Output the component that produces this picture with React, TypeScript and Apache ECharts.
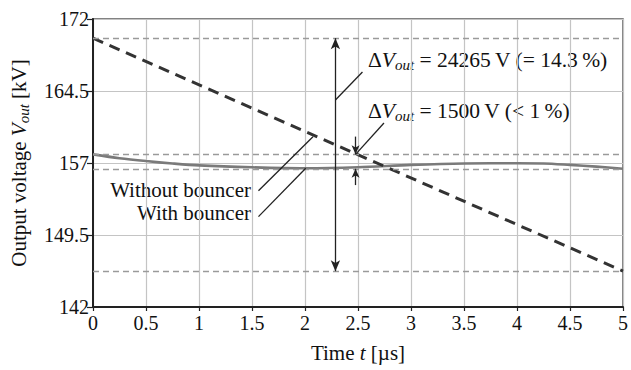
import React, { useEffect, useRef } from "react";
import * as echarts from "echarts";

// Time axis (µs) and output voltage (kV)
const timeWithout = [0, 5];
const voltWithout = [170.0, 145.735];

const timeWith = [0, 0.25, 0.5, 0.75, 1, 1.5, 2, 2.5, 3, 3.5, 4, 4.25, 4.5, 4.75, 5];
const voltWith = [157.9, 157.5, 157.2, 156.95, 156.75, 156.55, 156.45, 156.55, 156.8, 156.95, 156.97, 156.95, 156.8, 156.62, 156.4];

// Horizontal bounds of each droop (kV)
const boundsWithout = [170.0, 145.735];
const boundsWith = [157.9, 156.4];

const xTicks = { min: 0, max: 5, interval: 0.5 };
const yTicks = { min: 142, max: 172, interval: 7.5 };

const FONT = "Liberation Serif";

function richFor(size: number) {
  return {
    n: { fontFamily: FONT, fontSize: size, color: "#111", lineHeight: size + 4, verticalAlign: "middle" },
    i: { fontFamily: FONT, fontSize: size, color: "#111", fontStyle: "italic", lineHeight: size + 4 },
    s: {
      fontFamily: FONT,
      fontSize: Math.round(size * 0.7),
      color: "#111",
      fontStyle: "italic",
      lineHeight: Math.round(size * 0.7),
      verticalAlign: "bottom",
      padding: [4, 0, 0, 0],
    },
  };
}

export default function App() {
  const ref = useRef<HTMLDivElement>(null);

  useEffect(() => {
    if (!ref.current) return;
    const chart = echarts.init(ref.current, undefined, { renderer: "svg" });

    const nameRich = richFor(21);
    const noteRich = richFor(21.5);
    const arrowLine = { color: "#222", width: 1.3, type: "solid" };

    chart.setOption({
      animation: false,
      backgroundColor: "#fff",
      textStyle: { fontFamily: FONT },
      grid: {
        left: 93,
        right: 3,
        top: 19,
        bottom: 63,
        show: true,
        borderColor: "#5a5a5a",
        borderWidth: 1.5,
      },
      xAxis: {
        type: "value",
        min: xTicks.min,
        max: xTicks.max,
        interval: xTicks.interval,
        name: "Time {i|t} [µs]",
        nameLocation: "middle",
        nameGap: 33,
        nameTextStyle: { fontFamily: FONT, fontSize: 21, color: "#111", rich: nameRich },
        axisLine: { lineStyle: { color: "#222", width: 2 } },
        axisTick: { show: true, length: 4, lineStyle: { color: "#222", width: 1.2 } },
        axisLabel: { fontFamily: FONT, fontSize: 20, color: "#111", margin: 6 },
        splitLine: { show: true, lineStyle: { color: "#c4c4c4", width: 1.2 } },
      },
      yAxis: {
        type: "value",
        min: yTicks.min,
        max: yTicks.max,
        interval: yTicks.interval,
        name: "Output voltage {i|V}{s|out} [kV]",
        nameLocation: "middle",
        nameGap: 62,
        nameTextStyle: { fontFamily: FONT, fontSize: 21, color: "#111", rich: nameRich },
        axisLine: { show: true, lineStyle: { color: "#222", width: 2 } },
        axisTick: { show: true, length: 6, lineStyle: { color: "#222", width: 1.2 } },
        axisLabel: { fontFamily: FONT, fontSize: 20, color: "#111", margin: 4 },
        splitLine: { show: true, lineStyle: { color: "#c4c4c4", width: 1.2 } },
      },
      series: [
        {
          name: "With bouncer",
          type: "line",
          data: timeWith.map((t, k) => [t, voltWith[k]]),
          smooth: 0.3,
          showSymbol: false,
          lineStyle: { color: "#7a7a7a", width: 2.6 },
          z: 3,
          markLine: {
            silent: true,
            symbol: "none",
            label: { show: false },
            lineStyle: { color: "#9a9a9a", width: 1.4, type: [6, 4] },
            data: [
              ...boundsWith.map((v) => ({ yAxis: v })),
              ...boundsWithout.map((v) => ({ yAxis: v })),
            ],
          },
        },
        {
          name: "Without bouncer",
          type: "line",
          data: timeWithout.map((t, k) => [t, voltWithout[k]]),
          showSymbol: false,
          lineStyle: { color: "#333", width: 3, type: [11, 7] },
          z: 4,
          markLine: {
            silent: true,
            symbol: "none",
            label: { show: false },
            lineStyle: arrowLine,
            data: [
              // full droop arrow without bouncer
              [
                { coord: [2.287, boundsWithout[0]], symbol: "arrow", symbolSize: [7, 11] },
                { coord: [2.287, boundsWithout[1]], symbol: "arrow", symbolSize: [7, 11] },
              ],
              // droop arrows with bouncer
              [
                { coord: [2.477, 159.75], symbol: "none" },
                { coord: [2.477, boundsWith[0]], symbol: "arrow", symbolSize: [6, 9] },
              ],
              [
                { coord: [2.477, 154.7], symbol: "none" },
                { coord: [2.477, boundsWith[1]], symbol: "arrow", symbolSize: [6, 9] },
              ],
              // leader lines
              [{ coord: [2.542, 166.48] }, { coord: [2.287, 163.56] }],
              [{ coord: [2.745, 161.17] }, { coord: [2.477, boundsWith[0]] }],
              [{ coord: [1.561, 154.11] }, { coord: [2.075, 159.74] }],
              [{ coord: [1.561, 151.41] }, { coord: [2.007, 156.45] }],
            ],
          },
        },
      ],
      graphic: [
        {
          type: "text",
          x: 368,
          y: 60,
          style: {
            text: "Δ{i|V}{s|out}{n| = 24265\u2009V (= 14.3\u2009%)}",
            rich: noteRich,
            fontFamily: FONT,
            fontSize: 21.5,
            fill: "#111",
            verticalAlign: "middle",
          },
        },
        {
          type: "text",
          x: 368,
          y: 111,
          style: {
            text: "Δ{i|V}{s|out}{n| = 1500\u2009V (< 1\u2009%)}",
            rich: noteRich,
            fontFamily: FONT,
            fontSize: 21.5,
            fill: "#111",
            verticalAlign: "middle",
          },
        },
        {
          type: "text",
          x: 251,
          y: 190,
          style: {
            text: "Without bouncer",
            fontFamily: FONT,
            fontSize: 21,
            fill: "#111",
            align: "right",
            verticalAlign: "middle",
          },
        },
        {
          type: "text",
          x: 251,
          y: 213,
          style: {
            text: "With bouncer",
            fontFamily: FONT,
            fontSize: 21,
            fill: "#111",
            align: "right",
            verticalAlign: "middle",
          },
        },
      ],
    });

    return () => chart.dispose();
  }, []);

  return (
    <div
      ref={ref}
      style={{ position: "absolute", left: 0, top: 0, width: 631, height: 370 }}
    />
  );
}
